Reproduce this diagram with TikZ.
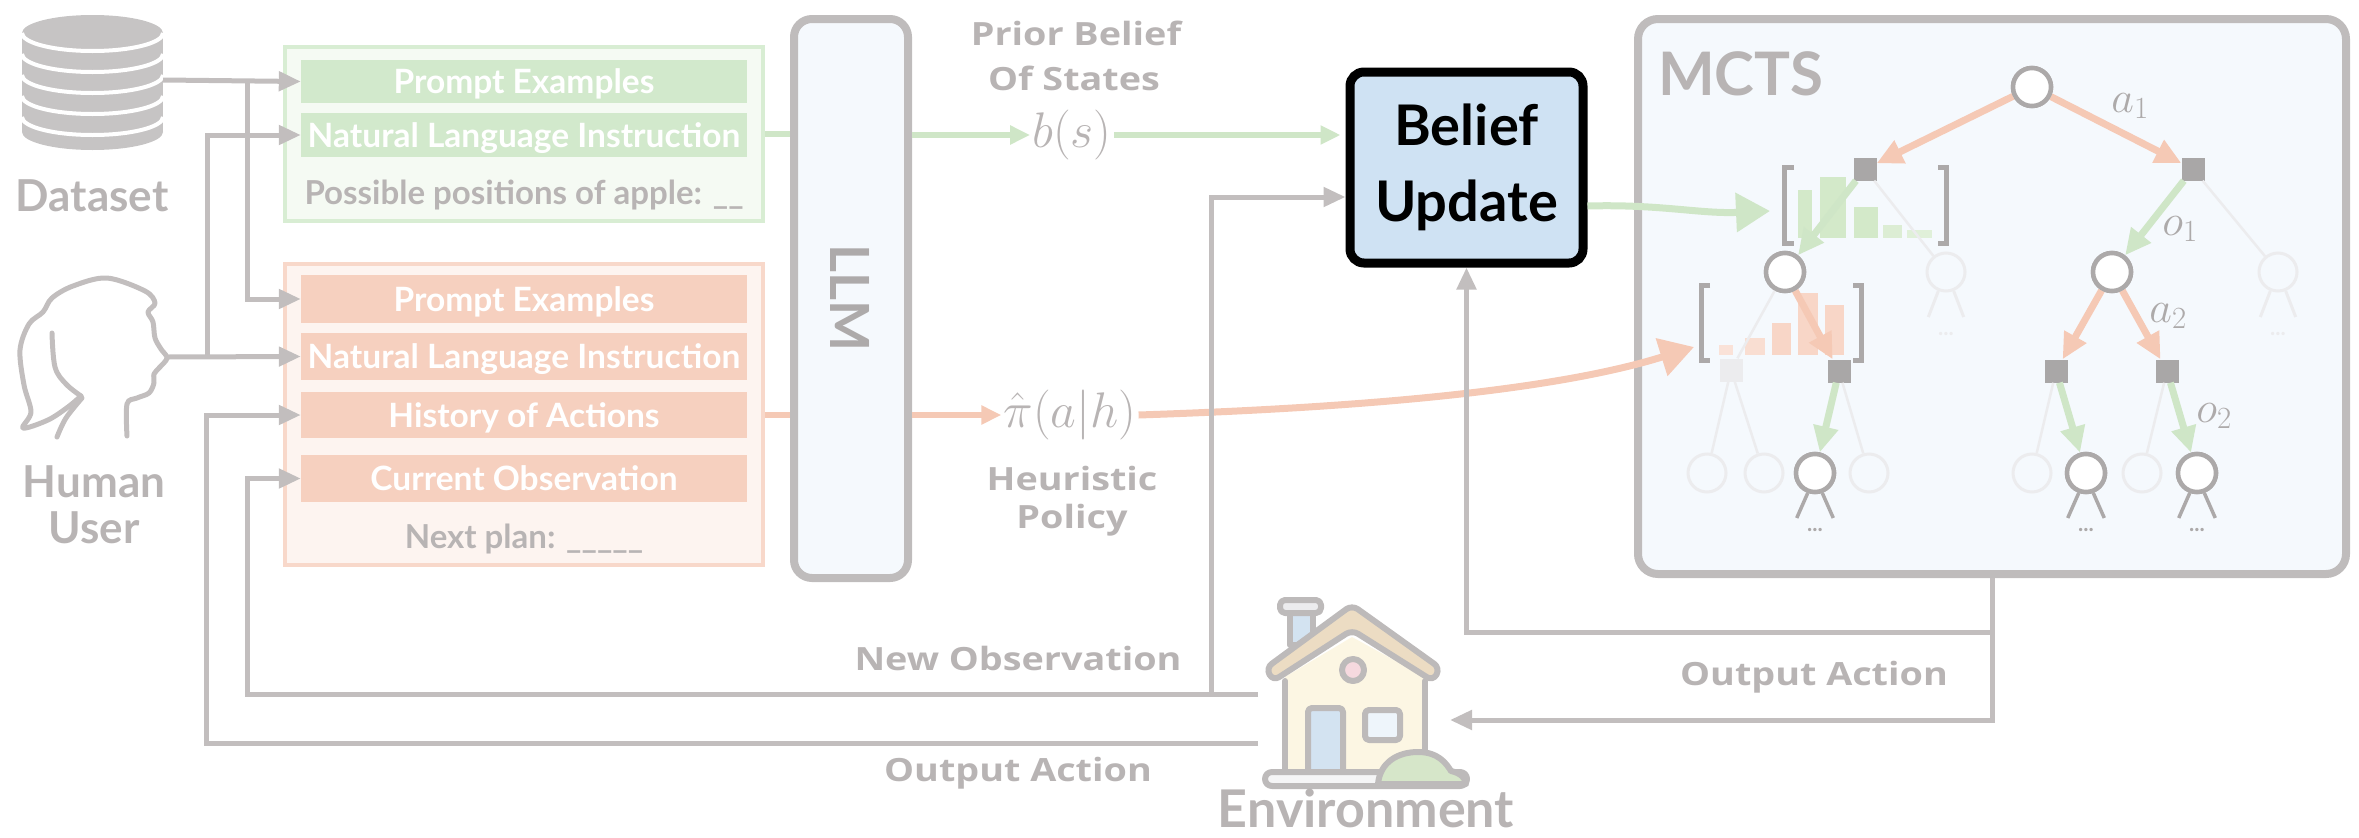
\documentclass[tikz,border=0pt]{standalone}
\usepackage{fix-cm}
\usepackage[no-math]{fontspec}
\setmainfont{Lato}
\newfontfamily\capfont[FakeStretch=1.18]{Open Sans}
\usetikzlibrary{arrows.meta}

\definecolor{lineg}{HTML}{C2BEBE}
\definecolor{txtg}{HTML}{B8B4B4}
\definecolor{darktxt}{HTML}{ADAAAA}
\definecolor{grnband}{HTML}{D2E9CC}
\definecolor{grnfill}{HTML}{F5FAF3}
\definecolor{grnedge}{HTML}{D8EDD3}
\definecolor{orgband}{HTML}{F6D0BF}
\definecolor{orgfill}{HTML}{FDF4F0}
\definecolor{orgedge}{HTML}{F8D8CA}
\definecolor{panelfill}{HTML}{F5F9FD}
\definecolor{paneledge}{HTML}{BFBCBC}
\definecolor{belieffill}{HTML}{CFE2F3}
\definecolor{grnarrow}{HTML}{CFE6C7}
\definecolor{orgarrow}{HTML}{F5C9B5}
\definecolor{nodeedge}{HTML}{ACA9A9}
\definecolor{sqfill}{HTML}{A9A7A7}
\definecolor{faint}{HTML}{ECECEE}
\definecolor{iconfill}{HTML}{C6C4C4}
\definecolor{housegrey}{HTML}{BDBABA}
\definecolor{roof}{HTML}{ECDCC3}
\definecolor{wall}{HTML}{FCF6E3}
\definecolor{door}{HTML}{D3E3F1}
\definecolor{winfill}{HTML}{EEF5FB}
\definecolor{pinkwin}{HTML}{F6D9DF}
\definecolor{bush}{HTML}{D6E6C9}
\definecolor{grnbar}{HTML}{D3E9C9}
\definecolor{orgbar}{HTML}{F8D6C7}

\newcommand\bandfont{\fontsize{33.5}{38}\selectfont\bfseries}
\newcommand\iconlblfont{\fontsize{44}{48}\selectfont\bfseries}
\newcommand\caplblfont{\capfont\fontsize{32}{38}\selectfont\bfseries}

\begin{document}
\begin{tikzpicture}[x=1pt,y=-1pt,
  gline/.style={draw=lineg, line width=5pt},
  gtip/.style={-{Triangle[length=22pt,width=19pt]}},
  garr/.style={draw=grnarrow, line width=6pt},
  oarrl/.style={draw=orgarrow, line width=6pt},
  ctip/.style={-{Triangle[length=20pt,width=18pt]}},
  bigtip/.style={-{Triangle[length=34pt,width=38pt]}},
  band/.style={fill=#1, minimum width=446pt, inner sep=0pt, text=white,
    font=\bandfont, text height=28pt, text depth=4pt},
  plaintxt/.style={text=txtg, font=\fontsize{33}{38}\selectfont\bfseries, inner sep=0pt},
  lbl/.style={text=txtg, font=\iconlblfont, inner sep=0pt},
  capl/.style={text=txtg, font=\caplblfont, inner sep=0pt},
  mathlbl/.style={text=txtg, font=\fontsize{50}{60}\selectfont, inner sep=2pt},
  treelbl/.style={text=darktxt, font=\fontsize{44}{50}\selectfont, inner sep=0pt},
  panel/.style={draw=paneledge, fill=panelfill, line width=8pt, rounded corners=18pt},
  circ/.style={circle, draw=nodeedge, fill=white, line width=4.5pt, minimum size=38pt, inner sep=0pt},
  fcirc/.style={circle, draw=faint, line width=3pt, minimum size=38pt, inner sep=0pt},
  sq/.style={fill=sqfill, minimum size=23pt, inner sep=0pt},
  fsq/.style={fill=faint, minimum size=23pt, inner sep=0pt},
  oarr/.style={draw=orgarrow, line width=7pt, -{Triangle[length=26pt,width=24pt]}},
  narr/.style={draw=grnarrow, line width=7pt, -{Triangle[length=26pt,width=24pt]}},
  fline/.style={draw=faint, line width=2.5pt},
  leg/.style={draw=nodeedge, line width=3.5pt},
  fleg/.style={draw=faint, line width=3pt},
  brk/.style={draw=nodeedge, line width=5pt},
  dotsty/.style={text=nodeedge, font=\fontsize{22}{22}\selectfont\bfseries, inner sep=0pt},
  hline/.style={draw=housegrey, line width=6pt, line join=round, line cap=round},
]
\useasboundingbox (0,0) rectangle (2359,838);

% ---------------- Dataset icon ----------------
\fill[iconfill] (22,33) rectangle (163,132);
\fill[iconfill] (92.5,33) ellipse [x radius=70.5, y radius=18];
\fill[iconfill] (92.5,132) ellipse [x radius=70.5, y radius=18];
\foreach \cy in {33,54,75,96,117}
  \draw[white, line width=4pt] (163,\cy) arc[start angle=0, end angle=180, x radius=70.5, y radius=18];
\coordinate (dsout) at (163,80);
\node[lbl, anchor=base] (dslbl) at (92,211) {Dataset};

% ---------------- Human user icon ----------------
\draw[draw=lineg, line width=5pt, line cap=round, line join=round]
  plot[smooth, tension=0.55] coordinates {(127,436) (127,404) (137,398) (149,393) (154,383)
   (154,374) (160,367) (167,358) (161,349) (155,338) (153,322) (148,312) (155,303)
   (145,291) (107,278) (73,286) (52,298) (43,312) (29,324) (20,350) (24,385)
   (31,412) (23,428) (48,420) (68,407) (81,396)};
\draw[draw=lineg, line width=5pt, line cap=round]
  plot[smooth, tension=0.6] coordinates {(52,333) (55,367) (66,384) (81,396)};
\draw[draw=lineg, line width=5pt, line cap=round]
  plot[smooth, tension=0.6] coordinates {(82,398) (66,418) (57,437)};
\coordinate (hnose) at (168,357);
\node[lbl, anchor=base] (hulbl) at (94,497) {Human};
\node[lbl, anchor=base] (uslbl) at (94,543) {User};

% ---------------- Prompt boxes ----------------
\node[draw=grnedge, fill=grnfill, line width=4pt, minimum width=478pt, minimum height=174pt] (gbox) at (524,134) {};
\node[band=grnband, minimum height=43pt] (gpe) at (524,81.5) {Prompt Examples};
\node[band=grnband, minimum height=44pt] (gnli) at (524,135) {Natural Language Instruction};
\node[plaintxt, anchor=base] (gq) at (524,204) {Possible positions of apple: \_\_};

\node[draw=orgedge, fill=orgfill, line width=4pt, minimum width=478pt, minimum height=301pt] (obox) at (524,414.5) {};
\node[band=orgband, minimum height=48pt] (ope) at (524,299) {Prompt Examples};
\node[band=orgband, minimum height=47pt] (onli) at (524,356.5) {Natural Language Instruction};
\node[band=orgband, minimum height=46pt] (ohist) at (524,415) {History of Actions};
\node[band=orgband, minimum height=47pt] (ocur) at (524,478.5) {Current Observation};
\node[plaintxt, anchor=base] (oplan) at (524,548) {Next plan: \_\_\_\_\_};

% ---------------- LLM ----------------
\node[panel, minimum width=114pt, minimum height=559pt] (llm) at (851,298.5) {};
\node[rotate=-90, text=darktxt, font=\fontsize{54}{60}\selectfont\bfseries, inner sep=0pt] (llmtxt) at (850,298) {LLM};

% ---------------- Belief update ----------------
\node[draw=black, line width=9pt, fill=belieffill, rounded corners=14pt,
  minimum width=233pt, minimum height=191pt, align=center,
  font=\fontsize{56}{76}\selectfont\bfseries] (belief) at (1466.5,167.5) {Belief\\Update};

% ---------------- MCTS panel ----------------
\node[panel, rounded corners=20pt, minimum width=708pt, minimum height=555pt] (mcts) at (1992,296.5) {};
\node[text=txtg, font=\fontsize{60}{66}\selectfont\bfseries, inner sep=0pt, anchor=base west] (mctslbl) at (1658,95) {MCTS};

% value bars under the brackets
\fill[grnbar] (1798,190) rectangle (1812,238);
\fill[grnbar] (1820,177) rectangle (1846,238);
\fill[grnbar] (1854,207) rectangle (1878,238);
\fill[grnbar!80!white] (1883,225) rectangle (1902,238);
\fill[grnbar!70!white] (1907,230) rectangle (1932,238);
\fill[orgbar!70!white] (1719,345) rectangle (1733,355);
\fill[orgbar!80!white] (1745,338) rectangle (1765,355);
\fill[orgbar] (1772,323) rectangle (1791,355);
\fill[orgbar] (1798,293) rectangle (1818,355);
\fill[orgbar] (1825,305) rectangle (1844,355);

% brackets
\draw[brk] (1794,167) -- (1784,167) -- (1784,243) -- (1794,243);
\draw[brk] (1938,167) -- (1946,167) -- (1946,243) -- (1938,243);
\draw[brk] (1710,285) -- (1701,285) -- (1701,360) -- (1710,360);
\draw[brk] (1853,285) -- (1861,285) -- (1861,360) -- (1853,360);
\coordinate (ubrk) at (1770,211);
\coordinate (lbrk) at (1694,347);

% tree nodes
\node[circ] (root) at (2032,87) {};
\node[sq] (sL) at (1865,169) {};
\node[sq] (sR) at (2193,169) {};
\node[circ] (cL) at (1785,272) {};
\node[fcirc] (cLf) at (1946,272) {};
\node[circ] (cR) at (2112,272) {};
\node[fcirc] (cRf) at (2278,272) {};
\node[fsq] (sLf) at (1731,370) {};
\node[sq] (sLL) at (1839,371) {};
\node[sq] (sRL) at (2056,371) {};
\node[sq] (sRR) at (2167,371) {};
\node[fcirc] (d1) at (1707,473) {};
\node[fcirc] (d2) at (1764,473) {};
\node[circ] (d3) at (1815,473) {};
\node[fcirc] (d4) at (1869,473) {};
\node[fcirc] (d5) at (2032,473) {};
\node[circ] (d6) at (2086,473) {};
\node[fcirc] (d7) at (2142,473) {};
\node[circ] (d8) at (2197,473) {};

% faint branches
\draw[fline] (sL) -- (cLf);
\draw[fline] (sR) -- (cRf);
\draw[fline] (cL) -- (sLf);
\draw[fline] (sLf) -- (d1);
\draw[fline] (sLf) -- (d2);
\draw[fline] (sLL) -- (d4);
\draw[fline] (sRL) -- (d5);
\draw[fline] (sRR) -- (d7);
\foreach \n in {cLf,cRf} {
  \draw[fleg] (\n.-112) -- ++(-10,26);
  \draw[fleg] (\n.-68) -- ++(10,26);
}
\node[text=faint, font=\fontsize{22}{22}\selectfont\bfseries, inner sep=0pt] (cLfdots) at ([yshift=-62pt]cLf) {...};
\node[text=faint, font=\fontsize{22}{22}\selectfont\bfseries, inner sep=0pt] (cRfdots) at ([yshift=-62pt]cRf) {...};

% explored branches
\draw[oarr] (root) -- (sL);
\draw[oarr] (root) -- (sR);
\draw[narr] (sL) -- (cL);
\draw[narr] (sR) -- (cR);
\draw[oarr] (cL) -- (sLL);
\draw[oarr] (cR) -- (sRL);
\draw[oarr] (cR) -- (sRR);
\draw[narr] (sLL) -- (d3);
\draw[narr] (sRL) -- (d6);
\draw[narr] (sRR) -- (d8);
\foreach \n in {d3,d6,d8} {
  \draw[leg] (\n.-110) -- ++(-11,25);
  \draw[leg] (\n.-70) -- ++(11,25);
}
\node[dotsty] (d3dots) at ([yshift=-57pt]d3) {...};
\node[dotsty] (d6dots) at ([yshift=-57pt]d6) {...};
\node[dotsty] (d8dots) at ([yshift=-57pt]d8) {...};
\node[circ] at (d3) {};
\node[circ] at (d6) {};
\node[circ] at (d8) {};
\node[circ] at (cL) {};
\node[circ] at (cR) {};
\node[circ] at (root) {};

\node[treelbl] (la1) at (2130,106) {$a_1$};
\node[treelbl] (lo1) at (2180,229) {$o_1$};
\node[treelbl] (la2) at (2168,316) {$a_2$};
\node[treelbl] (lo2) at (2214,416) {$o_2$};

% ---------------- Environment (house) ----------------
\fill[wall] (1285,677) -- (1352,637) -- (1425,677) -- (1425,775) -- (1285,775) -- cycle;
\draw[hline, fill=door] (1290,612) rectangle (1313,645);
\draw[hline, fill=faint, rounded corners=5pt] (1280,600) rectangle (1321,613);
\draw[hline, fill=roof, rounded corners=7pt]
  (1266,668) -- (1352,605) -- (1440,668) -- (1433,681) -- (1352,630) -- (1273,681) -- cycle;
\draw[hline] (1285,681) -- (1285,775);
\draw[hline] (1425,681) -- (1425,775);
\draw[hline, fill=pinkwin] (1353,670) circle[radius=11];
\draw[hline, fill=door, rounded corners=4pt] (1308,775) -- (1308,708) -- (1343,708) -- (1343,775);
\draw[hline, fill=winfill, rounded corners=4pt] (1365,710) rectangle (1400,740);
\draw[hline, fill=faint!50!white, rounded corners=7pt] (1265,772) rectangle (1467,786);
\draw[hline, fill=bush] (1378,784) .. controls (1380,762) and (1398,752) .. (1418,752)
  .. controls (1438,752) and (1446,763) .. (1451,771)
  .. controls (1461,773) and (1466,779) .. (1466,784) -- cycle;
\node[minimum width=205pt, minimum height=186pt, inner sep=0pt] (env) at (1365,693) {};
\node[text=txtg, font=\fontsize{52}{60}\selectfont\bfseries, inner sep=0pt, anchor=base] (envlbl) at (1366,827) {Environment};
\coordinate (envNO) at (1258,694);
\coordinate (envOA) at (1258,743);
\coordinate (envIn) at (1450,720);

% ---------------- Prompt inputs ----------------
\coordinate (dsjoin) at (247,80);
\coordinate (hjoin) at (207,357);
\draw[gline, gtip] (dsout) -- (gpe.west);
\draw[gline, gtip] (dsjoin) |- (ope.west);
\draw[gline, gtip] (hnose) -- (onli.west);
\draw[gline, gtip] (hjoin) |- (gnli.west);

% ---------------- LLM outputs ----------------
\node[mathlbl, anchor=base] (bs) at (1072,147.5) {$b(s)$};
\path (bs.base west) ++(0,-12.5) coordinate (bsL);
\path (bs.base east) ++(0,-12.5) coordinate (bsR);
\node[mathlbl, anchor=base] (pi) at (1070,427.5) {$\hat{\pi}(a|h)$};
\path (pi.base west) ++(0,-12.5) coordinate (piL);
\path (pi.base east) ++(0,-12.5) coordinate (piR);

\node[capl, anchor=base] (prior1) at (1076,45) {Prior Belief};
\node[capl, anchor=base] (prior2) at (1074,90) {Of States};
\node[capl, anchor=base] (heur1) at (1072,490) {Heuristic};
\node[capl, anchor=base] (heur2) at (1072,528) {Policy};

\draw[garr] (gbox.east) -- (llm.west |- gbox.east);
\draw[garr, ctip] (llm.east |- bsL) -- (bsL);
\draw[garr, ctip, shorten >=5pt] (bsR) -- (belief.west |- bsR);
\draw[oarrl] (obox.east) -- (llm.west |- obox.east);
\draw[oarrl, ctip] (llm.east |- piL) -- (piL);

% heuristic policy and belief feed the tree
\draw[draw=orgarrow, line width=7pt, bigtip] (piR) .. controls (1350,408) and (1550,392) .. (lbrk);
\draw[draw=grnarrow, line width=7pt, bigtip] (belief.east |- 0,206) .. controls (1660,204) and (1700,214) .. (ubrk);

% ---------------- Feedback loops ----------------
\coordinate (nojoin) at (1211,694);
\coordinate (mctsjoin) at (1992,632);
\draw[gline, gtip] (envNO) -| ([xshift=-53pt]ocur.west) -- (ocur.west);
\draw[gline, gtip] (nojoin) |- ([yshift=-29.5pt]belief.west);
\draw[gline, gtip] (envOA) -| ([xshift=-94pt]ohist.west) -- (ohist.west);
\draw[gline, gtip] (mcts.south) |- (envIn);
\draw[gline, gtip] (mctsjoin) -| (belief.south);

\node[capl, anchor=base] (newobs) at (1018,670) {New Observation};
\node[capl, anchor=base] (outact1) at (1018,781) {Output Action};
\node[capl, anchor=base] (outact2) at (1814,685) {Output Action};
\end{tikzpicture}
\end{document}
